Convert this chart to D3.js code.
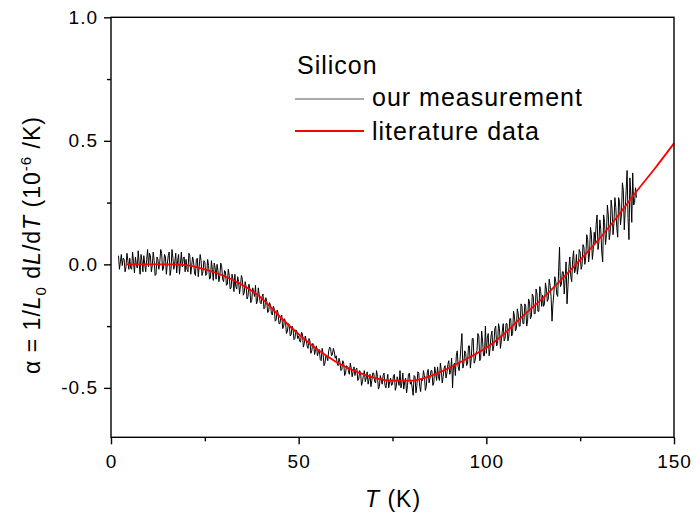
<!DOCTYPE html>
<html>
<head>
<meta charset="utf-8">
<script src="https://cdn.jsdelivr.net/npm/d3@7"></script>
<style>
  html, body { margin: 0; padding: 0; background: #fff; }
  svg { display: block; font-family: "Liberation Sans", Arial, sans-serif; }
</style>
</head>
<body>
<div id="chart"></div>
<script>
// Silicon thermal expansion coefficient, measurement vs literature

// literature curve (T in K, alpha in 1e-6/K)
const litT = [4, 10, 15, 20, 23, 28, 34, 40, 45, 50, 55, 60, 65, 70, 75, 80, 85, 90, 95, 100, 105, 110, 115, 120, 125, 130, 135, 140, 145, 150];
const litAlpha = [0.0, 0.0, 0.0, -0.003, -0.012, -0.035, -0.075, -0.135, -0.212, -0.283, -0.345, -0.395, -0.432, -0.458, -0.471, -0.471, -0.452, -0.42, -0.38, -0.338, -0.278, -0.205, -0.138, -0.062, 0.018, 0.102, 0.195, 0.295, 0.39, 0.49];

// measurement: samples every 0.25 K from 2 K, stored as two interleaved lists
// (A at 2.0, 2.5, 3.0 ... ; B at 2.25, 2.75, 3.25 ...)
const measStart = 2.0;
const measStep = 0.25;
const measAlphaA = [
  0.035, 0.01, -0.005, 0.02, -0.01, 0.015,
  0.025, -0.02, 0.01, 0.03, -0.015, 0.005, 0.04, -0.03, 0.0, 0.02,
  -0.01, 0.035, -0.005, 0.015, -0.04, 0.02, 0.01, 0.045, -0.015, 0.03,
  0.0, 0.05, -0.02, 0.025, 0.01, -0.035, 0.04, 0.005, -0.01, 0.03,
  0.02, -0.03, 0.035, -0.005, 0.01, -0.045, 0.025, -0.01, 0.015, -0.03,
  0.01, -0.04, -0.005, -0.055, -0.02, 0.005, -0.06, -0.025, -0.045, -0.01,
  -0.07, -0.03, -0.08, -0.045, -0.095, -0.06, -0.04, -0.1, -0.07, -0.085,
  -0.06, -0.115, -0.09, -0.13, -0.1, -0.145, -0.11, -0.085, -0.15, -0.125,
  -0.16, -0.12, -0.175, -0.15, -0.19, -0.165, -0.205, -0.18, -0.225, -0.195,
  -0.24, -0.205, -0.25, -0.235, -0.27, -0.245, -0.285, -0.26, -0.3, -0.27,
  -0.29, -0.315, -0.28, -0.32, -0.305, -0.34, -0.31, -0.35, -0.325, -0.345,
  -0.37, -0.345, -0.39, -0.36, -0.4, -0.375, -0.35, -0.34, -0.365, -0.355,
  -0.37, -0.41, -0.395, -0.425, -0.4, -0.44, -0.415, -0.445, -0.42, -0.435,
  -0.45, -0.42, -0.465, -0.44, -0.475, -0.43, -0.46, -0.485, -0.445, -0.47,
  -0.44, -0.48, -0.455, -0.495, -0.465, -0.45, -0.49, -0.47, -0.5, -0.46,
  -0.485, -0.445, -0.495, -0.47, -0.43, -0.48, -0.505, -0.46, -0.49, -0.44,
  -0.475, -0.53, -0.455, -0.49, -0.44, -0.515, -0.47, -0.45, -0.495, -0.425,
  -0.46, -0.43, -0.48, -0.44, -0.415, -0.47, -0.43, -0.455, -0.41, -0.44,
  -0.39, -0.43, -0.5, -0.4, -0.37, -0.415, -0.385, -0.28, -0.4, -0.36,
  -0.4, -0.33, -0.38, -0.3, -0.39, -0.35, -0.29, -0.38, -0.31, -0.37,
  -0.36, -0.28, -0.34, -0.27, -0.33, -0.25, -0.32, -0.26, -0.31, -0.24,
  -0.3, -0.24, -0.29, -0.22, -0.28, -0.21, -0.26, -0.2, -0.25, -0.17,
  -0.24, -0.17, -0.23, -0.15, -0.21, -0.13, -0.2, -0.12, -0.19, -0.11,
  -0.125, -0.16, -0.1, -0.14, -0.085, -0.23, -0.115, -0.07, -0.13, 0.07,
  -0.08, -0.03, -0.06, -0.16, -0.01, -0.05, 0.02, -0.035, 0.04, -0.01,
  0.05, -0.005, 0.07, 0.03, 0.1, 0.045, 0.12, 0.06, 0.085, 0.2,
  0.09, 0.14, 0.01, 0.17, 0.12, 0.2, 0.13, 0.225, 0.165, 0.23,
  0.11, 0.25, 0.2, 0.3, 0.22, 0.38, 0.1, 0.28, 0.37, 0.25,
  0.27
];
const measAlphaB = [
  -0.02, 0.04, 0.025, -0.03, 0.045, -0.02,
  -0.015, 0.05, -0.035, 0.0, 0.055, -0.04, 0.015, 0.035, -0.03, 0.06,
  0.045, -0.03, 0.05, -0.045, 0.03, -0.02, 0.06, -0.025, 0.04, -0.04,
  0.035, -0.045, 0.06, -0.02, 0.045, 0.015, -0.04, 0.05, 0.025, -0.03,
  -0.02, 0.045, -0.04, 0.03, -0.035, 0.02, -0.05, 0.04, -0.045, 0.015,
  -0.045, 0.02, -0.06, 0.015, -0.065, -0.015, 0.0, -0.07, 0.005, -0.06,
  -0.025, -0.085, -0.02, -0.1, -0.04, -0.11, -0.09, -0.05, -0.12, -0.045,
  -0.125, -0.07, -0.14, -0.08, -0.155, -0.095, -0.13, -0.16, -0.095, -0.155,
  -0.13, -0.18, -0.135, -0.195, -0.155, -0.2, -0.17, -0.23, -0.185, -0.24,
  -0.215, -0.26, -0.22, -0.28, -0.24, -0.29, -0.25, -0.305, -0.265, -0.3,
  -0.31, -0.275, -0.335, -0.29, -0.33, -0.3, -0.36, -0.32, -0.365, -0.33,
  -0.355, -0.385, -0.34, -0.41, -0.37, -0.39, -0.335, -0.37, -0.34, -0.38,
  -0.4, -0.38, -0.43, -0.39, -0.45, -0.41, -0.43, -0.4, -0.455, -0.415,
  -0.425, -0.47, -0.43, -0.49, -0.45, -0.475, -0.435, -0.465, -0.495, -0.44,
  -0.475, -0.43, -0.505, -0.45, -0.485, -0.44, -0.5, -0.445, -0.475, -0.49,
  -0.45, -0.51, -0.455, -0.49, -0.5, -0.44, -0.475, -0.52, -0.445, -0.485,
  -0.5, -0.45, -0.52, -0.435, -0.495, -0.46, -0.43, -0.51, -0.44, -0.48,
  -0.43, -0.49, -0.415, -0.47, -0.455, -0.4, -0.48, -0.42, -0.46, -0.405,
  -0.445, -0.38, -0.41, -0.45, -0.35, -0.43, -0.33, -0.42, -0.35, -0.41,
  -0.33, -0.42, -0.3, -0.4, -0.36, -0.28, -0.39, -0.27, -0.37, -0.25,
  -0.3, -0.37, -0.29, -0.35, -0.26, -0.33, -0.24, -0.34, -0.27, -0.31,
  -0.24, -0.31, -0.22, -0.29, -0.19, -0.27, -0.18, -0.25, -0.16, -0.24,
  -0.16, -0.25, -0.14, -0.22, -0.12, -0.2, -0.1, -0.19, -0.09, -0.17,
  -0.17, -0.075, -0.15, -0.06, -0.13, -0.16, -0.05, -0.12, -0.03, -0.09,
  -0.03, -0.12, 0.01, -0.09, 0.03, -0.07, 0.055, -0.02, -0.04, 0.06,
  -0.02, 0.08, 0.0, 0.12, 0.01, 0.15, 0.02, 0.13, 0.16, 0.06,
  0.18, 0.05, 0.2, 0.08, 0.24, 0.1, 0.26, 0.12, 0.27, 0.15,
  0.27, 0.16, 0.33, 0.14, 0.3, 0.19, 0.35, 0.17, 0.24, 0.31
];

// axis ticks
const xMajor = [0, 50, 100, 150];
const xMinor = [25, 75, 125];
const yMajor = [-0.5, 0.0, 0.5, 1.0];
const yMinor = [-0.25, 0.25, 0.75];

const W = 696, H = 521;
const plotLeft = 111, plotRight = 674, plotTop = 17.3, plotBottom = 437.3;

const svg = d3.select("#chart").append("svg")
    .attr("width", W)
    .attr("height", H);

const x = d3.scaleLinear().domain([0, 150]).range([plotLeft, plotRight]);
const y = d3.scaleLinear().domain([-0.7, 1.0]).range([plotBottom, plotTop]);

// interleave the two measurement lists into one series
const measAlpha = [];
measAlphaA.forEach((a, i) => {
    measAlpha.push(a);
    if (i < measAlphaB.length) measAlpha.push(measAlphaB[i]);
});
const measData = measAlpha.map((a, i) => ({ t: measStart + i * measStep, a: a }));
const litData = litT.map((t, i) => ({ t: t, a: litAlpha[i] }));

const line = d3.line().x(d => x(d.t)).y(d => y(d.a));

// data
svg.append("path")
    .datum(measData)
    .attr("d", line)
    .attr("fill", "none")
    .attr("stroke", "#000")
    .attr("stroke-width", 1);

svg.append("path")
    .datum(litData)
    .attr("d", line.curve(d3.curveMonotoneX))
    .attr("fill", "none")
    .attr("stroke", "#ff0000")
    .attr("stroke-width", 1.8);

// frame
svg.append("rect")
    .attr("x", plotLeft).attr("y", plotTop)
    .attr("width", plotRight - plotLeft).attr("height", plotBottom - plotTop)
    .attr("fill", "none")
    .attr("stroke", "#000")
    .attr("stroke-width", 1.4);

// axes
const tickFont = 19;
const fmt = d => d.toFixed(1);

function styleAxis(g) {
    g.select(".domain").remove();
    g.selectAll(".tick line").attr("stroke", "#000").attr("stroke-width", 1.4);
    g.selectAll("text")
        .attr("fill", "#000")
        .style("font-size", tickFont + "px")
        .style("letter-spacing", "1px")
        .style("font-family", "'Liberation Sans', Arial, sans-serif");
}

svg.append("g")
    .attr("transform", `translate(0,${plotBottom})`)
    .call(d3.axisBottom(x).tickValues(xMajor).tickSize(7).tickPadding(10).tickFormat(d3.format("d")))
    .call(styleAxis);

svg.append("g")
    .attr("transform", `translate(0,${plotBottom})`)
    .call(d3.axisBottom(x).tickValues(xMinor).tickSize(4).tickFormat(""))
    .call(styleAxis);

svg.append("g")
    .attr("transform", `translate(${plotLeft},0)`)
    .call(d3.axisLeft(y).tickValues(yMajor).tickSize(7).tickPadding(6).tickFormat(fmt))
    .call(styleAxis);

svg.append("g")
    .attr("transform", `translate(${plotLeft},0)`)
    .call(d3.axisLeft(y).tickValues(yMinor).tickSize(4).tickFormat(""))
    .call(styleAxis);

// x title
const xt = svg.append("text")
    .attr("x", 365).attr("y", 507)
    .attr("font-size", 23)
    .style("letter-spacing", "1px");
xt.append("tspan").attr("font-style", "italic").text("T");
xt.append("tspan").text(" (K)");

// y title
const yt = svg.append("text")
    .attr("transform", "translate(40,245) rotate(-90)")
    .attr("text-anchor", "middle")
    .attr("font-size", 23)
    .style("letter-spacing", "1px");
yt.append("tspan").text("\u03b1 = 1/");
yt.append("tspan").attr("font-style", "italic").text("L");
yt.append("tspan").attr("font-size", 15).attr("dy", 6).text("0");
yt.append("tspan").attr("dy", -6).text(" d");
yt.append("tspan").attr("font-style", "italic").text("L");
yt.append("tspan").text("/d");
yt.append("tspan").attr("font-style", "italic").text("T");
yt.append("tspan").text(" (10");
yt.append("tspan").attr("font-size", 15).attr("dy", -9).text("-6");
yt.append("tspan").attr("dy", 9).text(" /K)");

// legend
const legend = svg.append("g");
legend.append("text")
    .attr("x", 297).attr("y", 74)
    .attr("font-size", 25)
    .style("letter-spacing", "1px")
    .text("Silicon");

const legendItems = [
    { label: "our measurement", color: "#555", width: 1, ly: 99, ty: 106 },
    { label: "literature data", color: "#ff0000", width: 2, ly: 131, ty: 140 }
];
legendItems.forEach(d => {
    legend.append("line")
        .attr("x1", 295).attr("x2", 364)
        .attr("y1", d.ly).attr("y2", d.ly)
        .attr("stroke", d.color)
        .attr("stroke-width", d.width);
    legend.append("text")
        .attr("x", 372).attr("y", d.ty)
        .attr("font-size", 25)
        .style("letter-spacing", "1px")
        .text(d.label);
});
</script>
</body>
</html>
